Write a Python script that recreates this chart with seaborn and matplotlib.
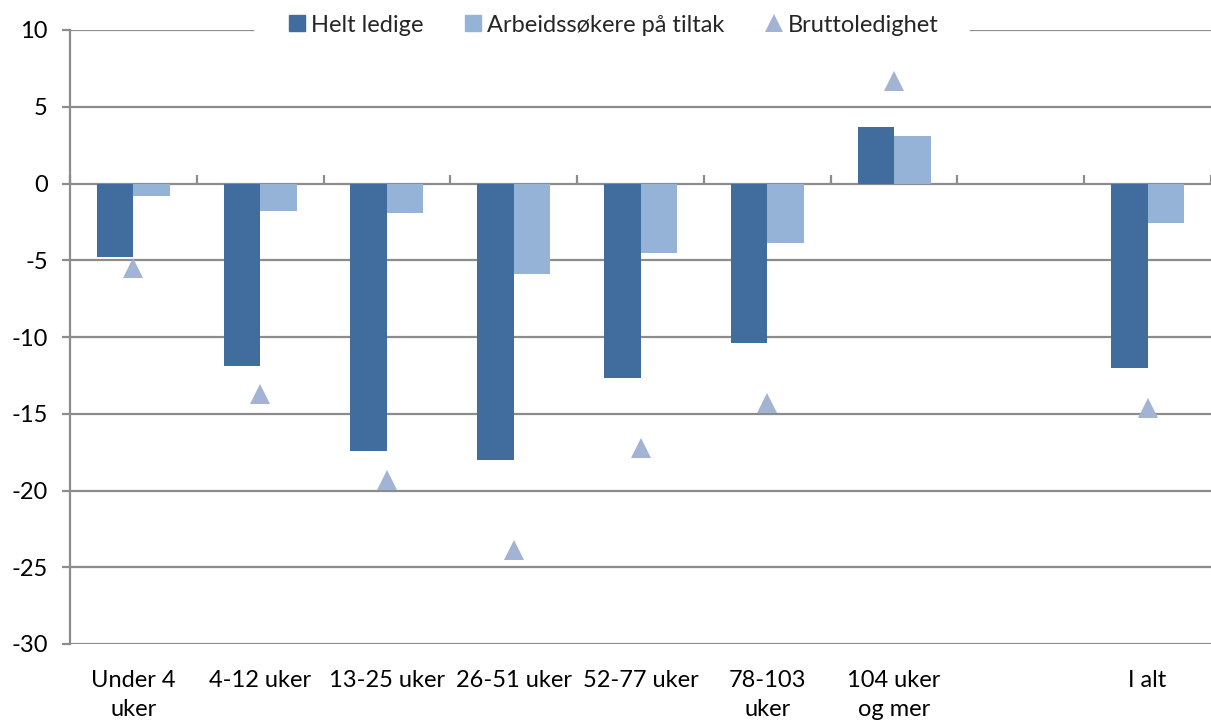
import matplotlib
matplotlib.use("Agg")
import matplotlib.pyplot as plt
import seaborn as sns
import pandas as pd
import numpy as np
from matplotlib.lines import Line2D

categories = ["Under 4\nuker", "4-12 uker", "13-25 uker", "26-51 uker", "52-77 uker",
              "78-103\nuker", "104 uker\nog mer", "", "I alt"]
helt_ledige = [-4.8, -11.9, -17.4, -18.0, -12.7, -10.4, 3.7, np.nan, -12.0]
tiltak = [-0.8, -1.8, -1.9, -5.9, -4.5, -3.9, 3.1, np.nan, -2.6]
brutto = [-5.5, -13.7, -19.3, -23.9, -17.2, -14.3, 6.7, np.nan, -14.6]
series_names = ["Helt ledige", "Arbeidssøkere på tiltak", "Bruttoledighet"]
yticks = [-30, -25, -20, -15, -10, -5, 0, 5, 10]

c_dark = "#416C9E"
c_light = "#95B3D7"
c_tri = "#A3B3D4"
grid_c = "#8C8C8C"
FS = 17

sns.set_theme(style="white")
plt.rcParams["font.family"] = ["Lato", "DejaVu Sans"]
plt.rcParams["axes.unicode_minus"] = False

long = pd.DataFrame({
    "kategori": categories * 2,
    "verdi": helt_ledige + tiltak,
    "serie": [series_names[0]] * len(categories) + [series_names[1]] * len(categories),
})
tri = pd.DataFrame({"kategori": categories, "verdi": brutto})

fig = plt.figure(figsize=(12.11, 7.25), dpi=100)
ax = fig.add_axes([70 / 1211, (725 - 644) / 725, 1141 / 1211, 614 / 725])

sns.barplot(data=long, x="kategori", y="verdi", hue="serie", order=categories,
            hue_order=series_names[:2], palette=[c_dark, c_light], width=0.575,
            gap=0, dodge=True, saturation=1, errorbar=None, legend=False, ax=ax,
            zorder=3, linewidth=0)
sns.pointplot(data=tri, x="kategori", y="verdi", order=categories, linestyle="none",
              marker="^", color=c_tri, markersize=14, errorbar=None, ax=ax)
for coll in ax.collections:
    coll.set_zorder(4)
for ln in ax.lines:
    ln.set_zorder(4)
    ln.set_markeredgewidth(0)

ax.set_xlim(-0.5, len(categories) - 0.5)
ax.set_ylim(-30, 10)
ax.set_yticks(yticks)
ax.set_yticklabels([str(v) for v in yticks])
ax.yaxis.grid(True, color=grid_c, linewidth=1.6, zorder=0)
ax.set_axisbelow(True)
ax.set_xlabel("")
ax.set_ylabel("")

for s in ["top", "right", "bottom"]:
    ax.spines[s].set_visible(False)
ax.spines["left"].set_color(grid_c)
ax.spines["left"].set_linewidth(1.6)

ax.tick_params(axis="y", length=6, width=1.6, color=grid_c, labelsize=FS, pad=10,
               left=True, labelcolor="black")
ax.tick_params(axis="x", length=0, labelsize=FS, pad=19, labelcolor="black")
for t in ax.get_xticklabels():
    t.set_linespacing(1.45)

sec = ax.secondary_xaxis(0.75)
sec.set_xticks(np.arange(-0.5, len(categories) + 0.5, 1.0))
sec.set_xticklabels([])
sec.tick_params(axis="x", direction="out", length=6, width=1.6, color=grid_c)
sec.spines["bottom"].set_visible(False)
sec.spines["top"].set_visible(False)

handles = [
    Line2D([], [], linestyle="none", marker="s", markersize=11, color=c_dark),
    Line2D([], [], linestyle="none", marker="s", markersize=11, color=c_light),
    Line2D([], [], linestyle="none", marker="^", markersize=13, color=c_tri, markeredgewidth=0),
]
leg = ax.legend(handles, series_names, loc="center", bbox_to_anchor=(0.475, 1.008),
                ncol=3, frameon=True, fontsize=FS, handletextpad=0.1, columnspacing=1.6,
                borderpad=0.3, handlelength=1.0)
leg.get_frame().set_facecolor("white")
leg.get_frame().set_edgecolor("none")
leg.get_frame().set_alpha(1)
leg.get_frame().set_boxstyle("square", pad=1.0)
leg.set_zorder(10)

fig.savefig("out.png", dpi=100)
